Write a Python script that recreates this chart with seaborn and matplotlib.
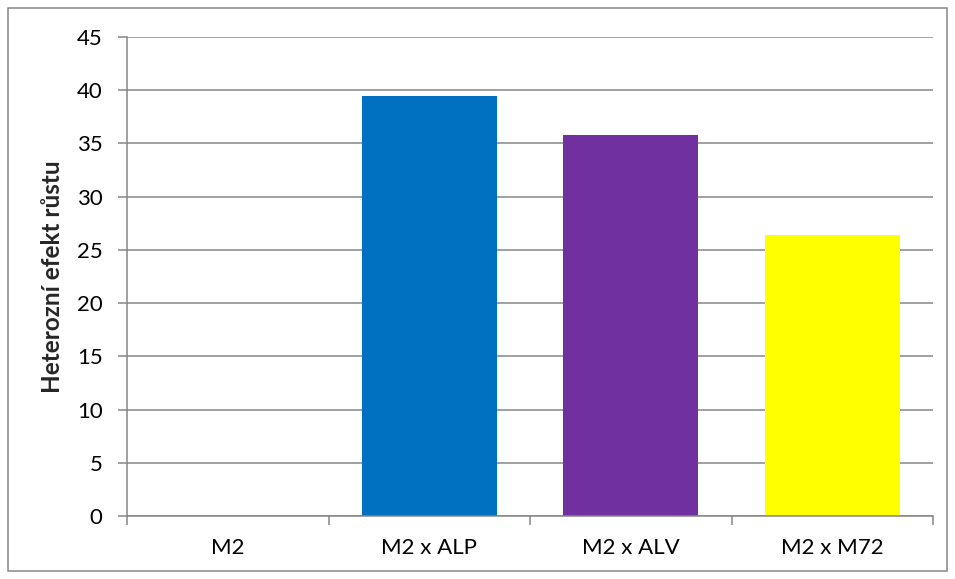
import matplotlib
matplotlib.use("Agg")
import matplotlib.pyplot as plt
import matplotlib.patches as mpatches
from matplotlib.ticker import FixedLocator
import seaborn as sns
import pandas as pd

categories = ["M2", "M2 x ALP", "M2 x ALV", "M2 x M72"]
values = [0.0, 39.5, 35.8, 26.4]
colors = ["#0070C0", "#0070C0", "#7030A0", "#FFFF00"]
y_ticks = [0, 5, 10, 15, 20, 25, 30, 35, 40, 45]
y_label = "Heterozní efekt růstu"

sns.set_style("white")
plt.rcParams["font.family"] = ["Lato", "DejaVu Sans"]

df = pd.DataFrame({"kat": categories, "hodnota": values})

fig = plt.figure(figsize=(9.55, 5.79), dpi=100)
ax = fig.add_axes([127 / 955, 1 - 516 / 579, (933 - 127) / 955, (516 - 37) / 579])

sns.barplot(data=df, x="kat", y="hodnota", hue="kat", palette=colors,
            order=categories, hue_order=categories, width=0.67,
            legend=False, saturation=1, ax=ax)

grid_c = "#868686"
ax.set_ylim(0, 45)
ax.set_xlim(-0.5, len(categories) - 0.5)
ax.set_yticks(y_ticks)
ax.yaxis.grid(True, color=grid_c, linewidth=1.1)
ax.set_axisbelow(True)
for b in ax.patches:
    b.set_edgecolor("none")

for side in ["top", "right"]:
    ax.spines[side].set_visible(False)
for side in ["left", "bottom"]:
    ax.spines[side].set_color(grid_c)
    ax.spines[side].set_linewidth(1.1)

tick_fs = 16
ax.tick_params(axis="y", length=6.5, color=grid_c, width=1.1, labelsize=tick_fs,
               labelcolor="black", pad=11, left=True, direction="out")
# category boundary ticks on the horizontal axis
ax.tick_params(axis="x", which="major", length=0, labelsize=tick_fs, pad=16,
               labelcolor="black")
ax.xaxis.set_minor_locator(FixedLocator([i - 0.5 for i in range(len(categories) + 1)]))
ax.tick_params(axis="x", which="minor", length=6.5, color=grid_c, width=1.1,
               bottom=True, direction="out")

ax.set_xlabel("")
ax.set_ylabel(y_label, fontsize=17.5, fontweight="bold", labelpad=9)

# chart border
fig.patches.append(mpatches.Rectangle((8 / 955, 1 - 571 / 579), 939 / 955, 563 / 579,
                                      transform=fig.transFigure, fill=False,
                                      edgecolor=grid_c, linewidth=1.1))

fig.savefig("out.png", dpi=100)
